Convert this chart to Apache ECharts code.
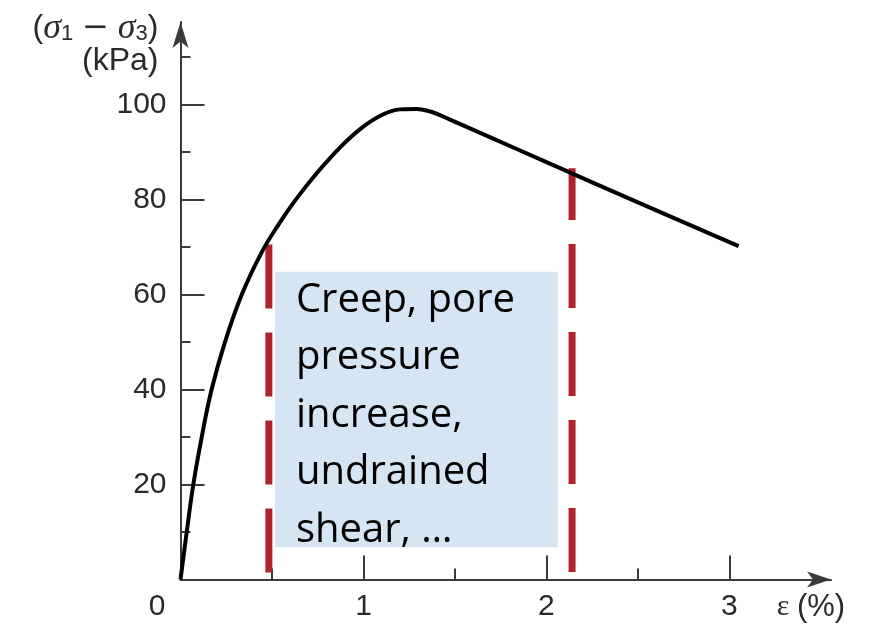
<!DOCTYPE html>
<html>
<head>
<meta charset="utf-8">
<script src="https://cdn.jsdelivr.net/npm/echarts@6/dist/echarts.min.js"></script>
<style>html,body{margin:0;padding:0;background:#fff}#c{width:874px;height:626px}</style>
</head>
<body>
<div id="c"></div>
<script>
// Stress-strain curve
const strain = [0, 0.034, 0.07, 0.116, 0.17, 0.243, 0.335, 0.445, 0.54, 0.63, 0.75, 0.87, 0.98, 1.1, 1.2, 1.29, 1.37, 1.47, 1.7, 2.0, 2.5, 3.05];
const stress = [0, 10, 20, 30, 40, 50, 60, 69, 75, 80, 85.8, 90.9, 94.8, 97.8, 99, 99.1, 98.5, 96.9, 93.0, 87.9, 79.4, 70.2];

// Ticks and labels
const xLabelValues = [0, 1, 2, 3];
const xMajorTicks = [1, 2, 3];
const xMinorTicks = [0.5, 1.5, 2.5];
const yLabelValues = [20, 40, 60, 80, 100];
const yMajorTicks = [20, 40, 60, 80, 100];
const yMinorTicks = [10, 30, 50, 70, 90, 110];

// Red dashed markers (strain position, bottom and top stress)
const dashX = [0.483, 2.14];
const dashBottom = [1.5, 1.6];
const dashTop = [70.6, 86.6];

// Annotation box (strain range, stress range) and its text
const boxX = [0.516, 2.061];
const boxY = [6.8, 64.8];
const boxLines = ['Creep, pore', 'pressure', 'increase,', 'undrained', 'shear, …'];

const axisColor = '#3a3a3a';
const textColor = '#2a2a2a';
const sans = 'Liberation Sans';

const chart = echarts.init(document.getElementById('c'));
const curve = strain.map((x, i) => [x, stress[i]]);

const dashSeries = dashX.map((x, i) => ({
  type: 'line',
  data: [[x, dashBottom[i]], [x, dashTop[i]]],
  showSymbol: false,
  silent: true,
  z: 3,
  lineStyle: { color: '#b0232a', width: 7, type: [64, 24], cap: 'butt' }
}));

chart.setOption({
  animation: false,
  grid: { left: 180.5, right: 43, top: 22, bottom: 46.5 },
  xAxis: [{
    type: 'value', min: 0, max: 3.555, position: 'bottom',
    splitLine: { show: false },
    axisLine: { lineStyle: { color: axisColor, width: 2 }, symbol: ['none', 'arrow'], symbolSize: [12, 24] },
    axisTick: { inside: true, length: 24, customValues: xMajorTicks, lineStyle: { color: axisColor, width: 2 } },
    axisLabel: {
      customValues: xLabelValues, fontSize: 30, fontFamily: sans, color: textColor, margin: 12,
      formatter: v => v === 0 ? '{z|0}' : String(v),
      rich: { z: { fontSize: 30, fontFamily: sans, color: textColor, padding: [0, 47, 0, 0] } }
    },
    name: '{e|ε }{a|(%)}', nameLocation: 'end', nameGap: -20,
    nameTextStyle: {
      align: 'center', verticalAlign: 'top', padding: [12, 0, 0, 0],
      rich: {
        e: { fontSize: 30, fontFamily: 'Liberation Serif', color: textColor },
        a: { fontSize: 31, fontFamily: sans, color: textColor }
      }
    }
  }, {
    type: 'value', min: 0, max: 3.555, position: 'bottom',
    splitLine: { show: false },
    axisLine: { show: false },
    axisTick: { inside: true, length: 11, customValues: xMinorTicks, lineStyle: { color: axisColor, width: 2 } },
    axisLabel: { show: false }
  }],
  yAxis: [{
    type: 'value', min: 0, max: 117.4, position: 'left',
    splitLine: { show: false },
    axisLine: { lineStyle: { color: axisColor, width: 2 }, symbol: ['none', 'arrow'], symbolSize: [12, 26] },
    axisTick: { inside: true, length: 24, customValues: yMajorTicks, lineStyle: { color: axisColor, width: 2 } },
    axisLabel: { customValues: yLabelValues, fontSize: 30, fontFamily: sans, color: textColor, margin: 14 },
    name: '{a|(}{s|σ}{sub|1}{a| }{m|−}{a| }{s|σ}{sub|3}{a|)}\n{a|(kPa)}',
    nameLocation: 'end', nameGap: 10,
    nameTextStyle: {
      align: 'right', verticalAlign: 'top', padding: [0, 22, 0, 0], lineHeight: 33,
      rich: {
        a: { fontSize: 32, fontFamily: sans, color: textColor, lineHeight: 33 },
        m: { fontSize: 32, fontFamily: 'DejaVu Sans', color: textColor, lineHeight: 33 },
        s: { fontSize: 36, fontFamily: 'Liberation Serif', fontStyle: 'italic', color: textColor, lineHeight: 33 },
        sub: { fontSize: 22, fontFamily: sans, color: textColor, verticalAlign: 'bottom', lineHeight: 33, padding: [14, 0, 0, 0] }
      }
    }
  }, {
    type: 'value', min: 0, max: 117.4, position: 'left',
    splitLine: { show: false },
    axisLine: { show: false },
    axisTick: { inside: true, length: 10, customValues: yMinorTicks, lineStyle: { color: axisColor, width: 2 } },
    axisLabel: { show: false }
  }],
  series: [{
    type: 'line',
    data: curve,
    showSymbol: false,
    smooth: 0.4,
    z: 4,
    lineStyle: { color: '#000', width: 4 },
    markArea: {
      silent: true,
      itemStyle: { color: '#d6e5f4' },
      label: {
        show: true, position: 'insideTopLeft', distance: 0, offset: [21, 0],
        formatter: boxLines.join('\n'),
        fontFamily: 'Open Sans', fontSize: 40, lineHeight: 57.5, color: '#000'
      },
      data: [[{ coord: [boxX[0], boxY[1]] }, { coord: [boxX[1], boxY[0]] }]]
    }
  }].concat(dashSeries)
});
</script>
</body>
</html>
